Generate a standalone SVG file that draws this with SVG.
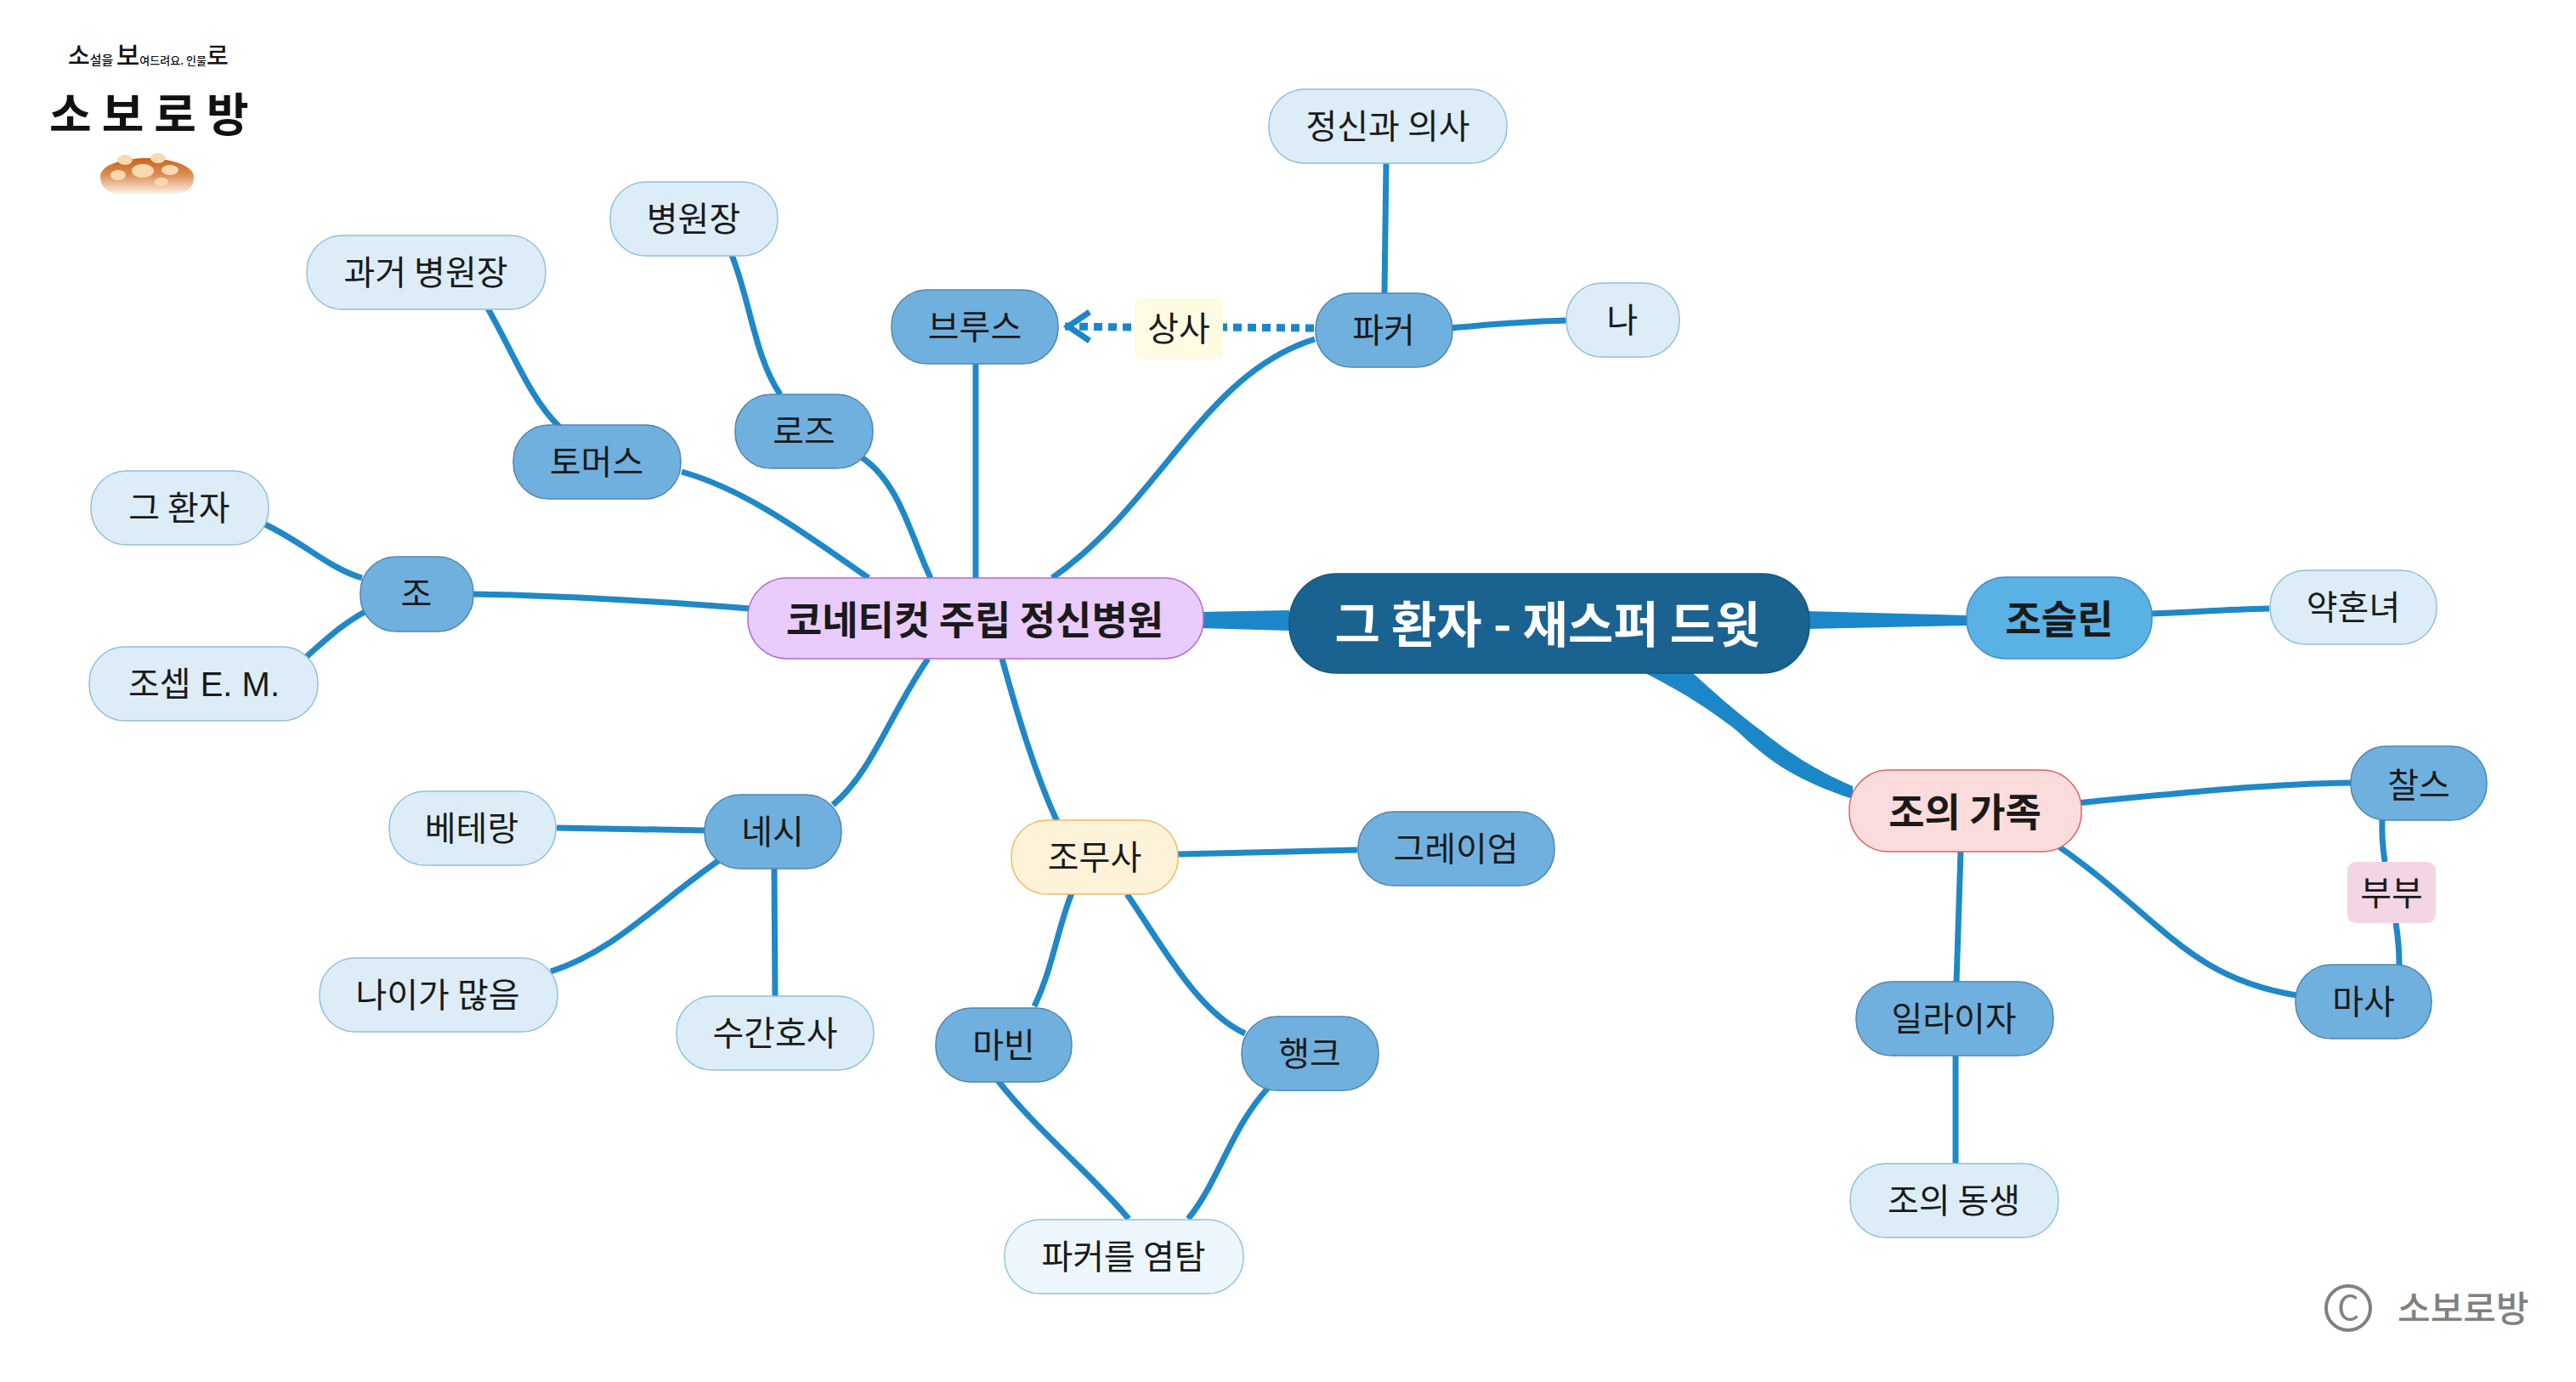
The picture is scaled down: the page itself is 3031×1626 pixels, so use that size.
<svg xmlns="http://www.w3.org/2000/svg" width="3031" height="1626" viewBox="0 0 3031 1626">
<style>
text{font-family:"Noto Sans CJK KR","Noto Sans",sans-serif;fill:#1a1a1a;}
.t{font-size:40px;text-anchor:middle;dominant-baseline:central;}
.b{font-weight:700;font-size:46px;}
.r{font-weight:700;font-size:58px;fill:#fff;}
.n{stroke-width:1.5;}
.blue{fill:#70b0de;stroke:#4f86ad;}
.light{fill:#dcedf7;stroke:#8fc0dc;}
.c{fill:none;stroke:#1f88c8;stroke-width:7;stroke-linecap:butt;}
.f{fill:#1b87c9;}
.logo{font-weight:500;fill:#111;}
.crumb{fill:#fbd9b0;}
</style>
<defs>
<linearGradient id="bread" x1="0" y1="0" x2="0" y2="1"><stop offset="0" stop-color="#c8641a"/><stop offset="0.45" stop-color="#d98c50"/><stop offset="1" stop-color="#fdf1e6"/></linearGradient>
</defs>
<rect width="3031" height="1626" fill="#fff"/>
<g id="connectors">
<path class="f" d="M1412,720 L1517,718 L1517,742 L1412,739Z"/>
<path class="f" d="M2125,719 L2314,724 L2314,736 L2125,740Z"/>
<path class="f" d="M1992,792 C2028,825 2056,848 2073,860 C2104,885 2134,905 2180,925 L2180,940 C2114,918 2084,898 2044,860 C2006,830 1971,810 1936,792Z"/>
<path class="c" d="M2532,722 C2582,720 2622,717 2670,716"/>
<path class="c" d="M2442,945 C2573,932 2673,922 2768,921"/>
<path class="c" d="M2307,1001 L2302,1156"/>
<path class="c" d="M2301,1241 L2301,1369"/>
<path class="c" d="M2421,995 C2543,1080 2573,1150 2702,1171"/>
<path class="c" d="M2803,964 C2802,985 2804,1000 2806,1014"/>
<path class="c" d="M2819,1086 C2822,1105 2823,1120 2823,1135"/>
<path class="c" d="M1631,191 L1629,345"/>
<path class="c" d="M1704,386 C1755,382 1795,378 1843,377"/>
<path class="c" d="M1238,680 C1367,590 1415,440 1547,399"/>
<path class="c" d="M1148,680 L1148,428"/>
<path class="c" d="M1095,680 C1073,635 1058,565 1012,537"/>
<path class="c" d="M1022,680 C950,630 880,577 802,555"/>
<path class="c" d="M556,699 C678,701 780,708 882,716"/>
<path class="c" d="M312,617 C358,639 388,669 426,680"/>
<path class="c" d="M360,773 C383,753 403,734 429,720"/>
<path class="c" d="M861,300 C883,355 888,420 918,464"/>
<path class="c" d="M574,363 C603,413 623,468 658,502"/>
<path class="c" d="M1092,775 C1047,840 1027,907 980,947"/>
<path class="c" d="M1179,775 C1197,840 1217,908 1244,967"/>
<path class="c" d="M655,974 L829,977"/>
<path class="c" d="M648,1143 C728,1117 778,1057 851,1009"/>
<path class="c" d="M911,1021 L912,1172"/>
<path class="c" d="M1386,1005 L1597,1000"/>
<path class="c" d="M1261,1051 C1244,1093 1239,1138 1217,1184"/>
<path class="c" d="M1326,1052 C1368,1113 1408,1189 1465,1216"/>
<path class="c" d="M1174,1271 C1218,1328 1288,1385 1328,1434"/>
<path class="c" d="M1492,1280 C1448,1328 1434,1390 1398,1434"/>
<path d="M1546,386 L1435,385" fill="none" stroke="#1b87c9" stroke-width="9" stroke-dasharray="10 7"/>
<path d="M1331,385 L1251,384" fill="none" stroke="#1b87c9" stroke-width="9" stroke-dasharray="10 7"/>
<path d="M1282,367 L1257,384 L1282,401" fill="none" stroke="#1b87c9" stroke-width="7"/>
</g>
<g id="n-root"><rect class="n" x="1517" y="675" width="612" height="117" rx="56" fill="#1a6391" stroke="#14557f"/><text class="t r" x="1821" y="731">그 환자 - 재스퍼 드윗</text></g>
<g id="n-hospital"><rect class="n" x="880" y="680" width="536" height="95" rx="46" fill="#e9ccfc" stroke="#b068d8"/><text class="t b" x="1147" y="726">코네티컷 주립 정신병원</text></g>
<g id="n-family"><rect class="n" x="2176" y="906" width="273" height="96" rx="46" fill="#fbdcdc" stroke="#e06060"/><text class="t b" x="2312" y="952">조의 가족</text></g>
<g id="n-jocelyn"><rect class="n" x="2314" y="679" width="218" height="96" rx="46" fill="#5ab1e4" stroke="#3f8fc4"/><text class="t b" x="2423" y="725">조슬린</text></g>
<g id="n-fiancee"><rect class="n light" x="2671" y="671" width="196" height="87" rx="42"/><text class="t" x="2769" y="712">약혼녀</text></g>
<g id="n-psych"><rect class="n light" x="1493" y="105" width="280" height="87" rx="42"/><text class="t" x="1633" y="146">정신과 의사</text></g>
<g id="n-parker"><rect class="n blue" x="1548" y="345" width="161" height="87" rx="42"/><text class="t" x="1628" y="386">파커</text></g>
<g id="n-me"><rect class="n light" x="1843" y="333" width="133" height="87" rx="42"/><text class="t" x="1909" y="374">나</text></g>
<g id="n-bruce"><rect class="n blue" x="1049" y="341" width="196" height="87" rx="42"/><text class="t" x="1147" y="382">브루스</text></g>
<g id="n-boss"><rect x="1335" y="351" width="104" height="72" rx="8" fill="#fefbe3"/><text class="t" x="1387" y="384">상사</text></g>
<g id="n-rose"><rect class="n blue" x="865" y="464" width="162" height="87" rx="42"/><text class="t" x="946" y="505">로즈</text></g>
<g id="n-director"><rect class="n light" x="718" y="214" width="197" height="87" rx="42"/><text class="t" x="816" y="255">병원장</text></g>
<g id="n-thomas"><rect class="n blue" x="604" y="500" width="197" height="87" rx="42"/><text class="t" x="702" y="541">토머스</text></g>
<g id="n-former"><rect class="n light" x="361" y="277" width="281" height="87" rx="42"/><text class="t" x="501" y="318">과거 병원장</text></g>
<g id="n-jo"><rect class="n blue" x="424" y="655" width="133" height="88" rx="42"/><text class="t" x="490" y="696">조</text></g>
<g id="n-patient"><rect class="n light" x="107" y="554" width="209" height="87" rx="42"/><text class="t" x="211" y="595">그 환자</text></g>
<g id="n-joseph"><rect class="n light" x="105" y="761" width="269" height="87" rx="42"/><text class="t" x="240" y="805" style="font-family:'Liberation Sans','Noto Sans CJK KR',sans-serif">조셉 E. M.</text></g>
<g id="n-nesi"><rect class="n blue" x="829" y="935" width="161" height="87" rx="42"/><text class="t" x="909" y="976">네시</text></g>
<g id="n-veteran"><rect class="n light" x="458" y="931" width="196" height="87" rx="42"/><text class="t" x="555" y="972">베테랑</text></g>
<g id="n-old"><rect class="n light" x="376" y="1127" width="280" height="87" rx="42"/><text class="t" x="515" y="1168">나이가 많음</text></g>
<g id="n-nurse"><rect class="n light" x="796" y="1172" width="232" height="87" rx="42"/><text class="t" x="912" y="1213">수간호사</text></g>
<g id="n-orderly"><rect class="n" x="1190" y="965" width="196" height="87" rx="42" fill="#fef2d8" stroke="#eebc60"/><text class="t" x="1288" y="1006">조무사</text></g>
<g id="n-graham"><rect class="n blue" x="1598" y="955" width="231" height="87" rx="42"/><text class="t" x="1713" y="996">그레이엄</text></g>
<g id="n-marvin"><rect class="n blue" x="1101" y="1186" width="160" height="87" rx="42"/><text class="t" x="1181" y="1227">마빈</text></g>
<g id="n-hank"><rect class="n blue" x="1461" y="1196" width="161" height="87" rx="42"/><text class="t" x="1541" y="1237">행크</text></g>
<g id="n-spy"><rect class="n" x="1182" y="1435" width="281" height="87" rx="42" fill="#edf6fc" stroke="#8fc4e0"/><text class="t" x="1322" y="1476">파커를 염탐</text></g>
<g id="n-charles"><rect class="n blue" x="2766" y="878" width="160" height="87" rx="42"/><text class="t" x="2846" y="921">찰스</text></g>
<g id="n-couple"><rect x="2762" y="1014" width="104" height="72" rx="10" fill="#f3d5e3"/><text class="t" x="2814" y="1048">부부</text></g>
<g id="n-martha"><rect class="n blue" x="2701" y="1135" width="160" height="87" rx="42"/><text class="t" x="2781" y="1176">마사</text></g>
<g id="n-elijah"><rect class="n blue" x="2184" y="1155" width="232" height="87" rx="42"/><text class="t" x="2299" y="1196">일라이자</text></g>
<g id="n-brother"><rect class="n light" x="2177" y="1369" width="245" height="87" rx="42"/><text class="t" x="2299" y="1410">조의 동생</text></g>
<g id="logo">
<text class="logo" x="80" y="76" font-size="28">소<tspan font-size="15">설을 </tspan><tspan font-size="30">보</tspan><tspan font-size="13">여드려요. 인물</tspan><tspan font-size="28">로</tspan></text>
<text class="logo" x="58" y="155" font-size="54" letter-spacing="12" style="font-weight:700">소보로방</text>
<path d="M118,208 C118,192 150,186 172,186 C198,186 228,194 228,208 C228,222 218,228 205,228 L140,228 C128,228 118,220 118,208Z" fill="url(#bread)"/>
<ellipse class="crumb" cx="147" cy="188" rx="9" ry="6"/><ellipse class="crumb" cx="186" cy="186" rx="9" ry="6"/>
<ellipse class="crumb" cx="168" cy="201" rx="13" ry="8"/><ellipse class="crumb" cx="200" cy="200" rx="10" ry="6"/><ellipse class="crumb" cx="139" cy="206" rx="9" ry="6"/><ellipse class="crumb" cx="190" cy="214" rx="8" ry="5"/>
</g>
<g id="copyright">
<circle cx="2763" cy="1539" r="26" fill="none" stroke="#808080" stroke-width="4"/>
<text x="2763" y="1553" font-size="40" text-anchor="middle" style="fill:#808080">C</text>
<text x="2821" y="1555" font-size="42" style="fill:#808080;font-weight:500">소보로방</text>
</g>
</svg>
